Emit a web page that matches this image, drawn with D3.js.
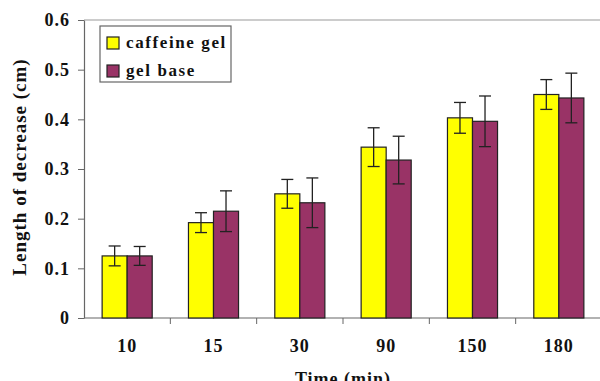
<!DOCTYPE html>
<html>
<head>
<meta charset="utf-8">
<script src="https://cdn.jsdelivr.net/npm/d3@7"></script>
<style>
  body { margin: 0; background: #fff; }
</style>
</head>
<body>
<div id="chart"></div>
<script>
// Data
const times = ['10', '15', '30', '90', '150', '180'];
const seriesNames = ['caffeine gel', 'gel base'];
const caffeineGel = [0.125, 0.192, 0.250, 0.344, 0.403, 0.450];
const caffeineErr = [0.020, 0.020, 0.029, 0.039, 0.031, 0.030];
const gelBase = [0.125, 0.215, 0.232, 0.318, 0.396, 0.443];
const gelBaseErr = [0.019, 0.041, 0.050, 0.048, 0.051, 0.050];
const yTicks = [0, 0.1, 0.2, 0.3, 0.4, 0.5, 0.6];
const colors = ['#ffff00', '#993366'];

const FONT = '"Liberation Serif"';

const rows = times.map((t, i) => ({
  time: t,
  values: [
    { name: seriesNames[0], value: caffeineGel[i], err: caffeineErr[i] },
    { name: seriesNames[1], value: gelBase[i], err: gelBaseErr[i] }
  ]
}));

const width = 600, height = 381;
const margin = { top: 20, right: -2, bottom: 63, left: 84 };

const svg = d3.select('#chart')
  .append('svg')
  .attr('width', width)
  .attr('height', height);

// helper for the bold serif text used everywhere
function styleText(sel, size, spacing) {
  return sel
    .style('font-family', FONT)
    .style('font-weight', 'bold')
    .style('font-size', size + 'px')
    .style('letter-spacing', spacing + 'px')
    .attr('fill', '#111');
}

const x0 = d3.scaleBand()
  .domain(times)
  .range([margin.left, width - margin.right])
  .paddingInner(0.42)
  .paddingOuter(0.21);

const x1 = d3.scaleBand()
  .domain(seriesNames)
  .range([0, x0.bandwidth()]);

const color = d3.scaleOrdinal().domain(seriesNames).range(colors);

const y = d3.scaleLinear()
  .domain([0, 0.6])
  .range([height - margin.bottom, margin.top]);

// Top border of the plot area
svg.append('line')
  .attr('x1', margin.left)
  .attr('x2', width)
  .attr('y1', y(0.6))
  .attr('y2', y(0.6))
  .attr('stroke', '#999')
  .attr('stroke-width', 1.2);

// Y axis
const yAxis = svg.append('g')
  .attr('transform', `translate(${margin.left},0)`)
  .call(d3.axisLeft(y)
    .tickValues(yTicks)
    .tickSize(6)
    .tickSizeOuter(0)
    .tickPadding(8)
    .tickFormat(d => d === 0 ? '0' : d3.format('.1f')(d)));
yAxis.attr('font-family', null).attr('font-size', null);
yAxis.select('.domain').attr('stroke', '#666').attr('stroke-width', 1.2);
yAxis.selectAll('.tick line').attr('stroke', '#666');
styleText(yAxis.selectAll('.tick text'), 18, 1);

// X axis: baseline, tick marks between categories, labels at centres
svg.append('line')
  .attr('x1', margin.left)
  .attr('x2', width)
  .attr('y1', y(0))
  .attr('y2', y(0))
  .attr('stroke', '#666')
  .attr('stroke-width', 1.2);

svg.selectAll('.xtick')
  .data(times.slice(0, -1))
  .enter().append('line')
  .attr('class', 'xtick')
  .attr('x1', d => x0(d) + x0.bandwidth() / 2 + x0.step() / 2)
  .attr('x2', d => x0(d) + x0.bandwidth() / 2 + x0.step() / 2)
  .attr('y1', y(0))
  .attr('y2', y(0) + 6)
  .attr('stroke', '#666');

styleText(svg.selectAll('.xlabel')
  .data(times)
  .enter().append('text')
  .attr('class', 'xlabel')
  .attr('x', d => x0(d) + x0.bandwidth() / 2)
  .attr('y', 352)
  .attr('text-anchor', 'middle')
  .text(d => d), 18, 1);

// Bars
const groups = svg.selectAll('.group')
  .data(rows)
  .enter().append('g')
  .attr('class', 'group')
  .attr('transform', d => `translate(${x0(d.time)},0)`);

groups.selectAll('rect')
  .data(d => d.values)
  .enter().append('rect')
  .attr('x', d => x1(d.name))
  .attr('width', x1.bandwidth())
  .attr('y', d => y(d.value))
  .attr('height', d => y(0) - y(d.value))
  .attr('fill', d => color(d.name))
  .attr('stroke', '#222')
  .attr('stroke-width', 1.2);

// Error bars
const capW = 6;
const err = groups.selectAll('.err')
  .data(d => d.values)
  .enter().append('g')
  .attr('class', 'err')
  .attr('stroke', '#222')
  .attr('stroke-width', 1.3);

err.append('line')
  .attr('x1', d => x1(d.name) + x1.bandwidth() / 2)
  .attr('x2', d => x1(d.name) + x1.bandwidth() / 2)
  .attr('y1', d => y(d.value + d.err))
  .attr('y2', d => y(d.value - d.err));
err.append('line')
  .attr('x1', d => x1(d.name) + x1.bandwidth() / 2 - capW)
  .attr('x2', d => x1(d.name) + x1.bandwidth() / 2 + capW)
  .attr('y1', d => y(d.value + d.err))
  .attr('y2', d => y(d.value + d.err));
err.append('line')
  .attr('x1', d => x1(d.name) + x1.bandwidth() / 2 - capW)
  .attr('x2', d => x1(d.name) + x1.bandwidth() / 2 + capW)
  .attr('y1', d => y(d.value - d.err))
  .attr('y2', d => y(d.value - d.err));

// Axis titles
styleText(svg.append('text')
  .attr('transform', 'rotate(-90)')
  .attr('x', -167)
  .attr('y', 26)
  .attr('text-anchor', 'middle')
  .text('Length of decrease (cm)'), 19, 1);

styleText(svg.append('text')
  .attr('x', 343)
  .attr('y', 385)
  .attr('text-anchor', 'middle')
  .text('Time (min)'), 18, 1);

// Legend
const legend = svg.append('g').attr('transform', 'translate(100,26)');
legend.append('rect')
  .attr('width', 131)
  .attr('height', 56)
  .attr('fill', '#fff')
  .attr('stroke', '#666')
  .attr('stroke-width', 1.2);

const items = legend.selectAll('.item')
  .data(seriesNames)
  .enter().append('g')
  .attr('class', 'item')
  .attr('transform', (d, i) => `translate(7,${11 + i * 28})`);

items.append('rect')
  .attr('width', 12)
  .attr('height', 12)
  .attr('fill', d => color(d))
  .attr('stroke', '#222')
  .attr('stroke-width', 1.2);

styleText(items.append('text')
  .attr('x', 19)
  .attr('y', 11)
  .text(d => d), 17, 1.6);
</script>
</body>
</html>
